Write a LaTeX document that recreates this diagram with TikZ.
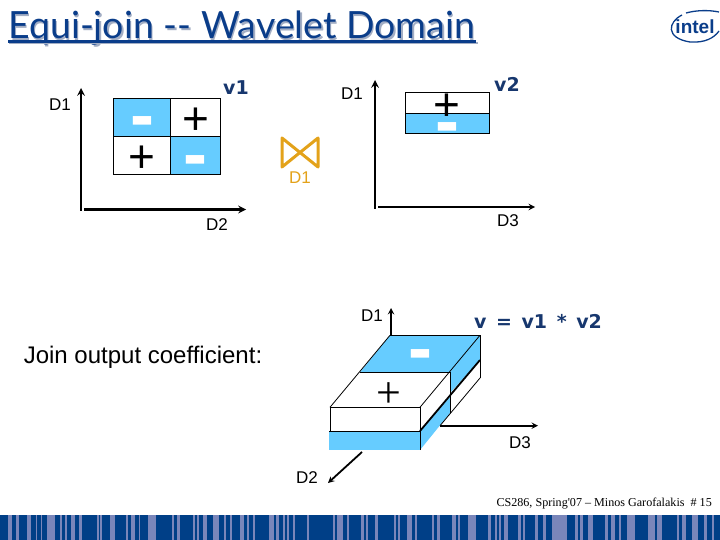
\documentclass[tikz,border=0pt]{standalone}
\usepackage{fontspec}
\setmainfont{Liberation Sans}
\newfontfamily\titlefont{Lato}
\newfontfamily\boldfont{DejaVu Sans}[BoldFont={DejaVu Sans Bold}]
\newfontfamily\plusfont{Liberation Serif}
\definecolor{barblue}{HTML}{003F87}
\definecolor{barlight}{HTML}{7A86BA}
\definecolor{cellblue}{HTML}{66CCFF}
\definecolor{titleblue}{HTML}{0A3D8A}
\definecolor{titlegray}{HTML}{A3AEC4}
\definecolor{vblue}{HTML}{17376E}
\definecolor{joinorange}{HTML}{E3A21A}
\begin{document}
\begin{tikzpicture}[
    x=1pt, y=-1pt,
    axis/.style={->, >=stealth, line width=2.4pt, black},
    axisthin/.style={->, >=stealth, line width=1.8pt, black},
    plain/.style={draw=black, fill=white, line width=0.8pt, minimum height=38pt, outer sep=0pt, inner sep=0pt},
    neg/.style={plain, fill=cellblue},
    plus/.style={font=\fontsize{46}{46}\selectfont, text=black, inner sep=0pt},
    minus/.style={font=\fontsize{72}{72}\bfseries\selectfont, text=white, inner sep=0pt},
    dim/.style={font=\fontsize{17}{17}\selectfont, text=black, inner sep=0pt},
    vname/.style={font=\fontsize{19}{19}\boldfont\bfseries\selectfont, text=vblue, inner sep=0pt},
    edge/.style={line width=0.8pt, black},
    edgeheavy/.style={line width=1.8pt, black},
]
\useasboundingbox (0,0) rectangle (720,540);

% title with its shadow
\node[font=\fontsize{37.5}{37.5}\titlefont\selectfont, text=titlegray, inner sep=0pt, anchor=base west] (titleshadow) at (9.5,40.5) {Equi-join -- Wavelet Domain};
\node[font=\fontsize{37.5}{37.5}\titlefont\selectfont, text=titleblue, inner sep=0pt, anchor=base west] (title) at (8,39) {Equi-join -- Wavelet Domain};
\fill[titlegray] (9,42) rectangle (478,44.5);
\fill[titleblue] (8,40.5) rectangle (476,43);

% logo
\node[font=\fontsize{19}{19}\bfseries\selectfont, text=titleblue, inner sep=0pt] (intel) at (695,27) {intel};
\draw[titleblue, line width=1.3pt] (682,15) .. controls (668,22) and (665,38) .. (690,42) .. controls (705,43) and (714,38) .. (719,31);
\draw[titleblue, line width=1.3pt] (686,13) .. controls (697,10) and (709,10) .. (719,12);

% v1
\node[neg, minimum width=57pt] (cella) at (142,117) {};
\node[plain, minimum width=50pt] (cellb) at (195.5,117) {};
\node[plain, minimum width=57pt] (cellc) at (142,155.5) {};
\node[neg, minimum width=50pt] (celld) at (195.5,155.5) {};
\node[minus] (ma) at (142,128) {-};
\node[plus] (pb) at (195.5,121) {+};
\node[plus] (pc) at (142,159) {+};
\node[minus] (md) at (195.5,167) {-};
\coordinate (originv) at (81,211);
\coordinate (topv) at (81,88);
\coordinate (cornerv) at (84,209.5);
\coordinate (rightv) at (246,209.5);
\draw[axis] (originv) -- (topv);
\draw[axis] (cornerv) -- (rightv);
\node[dim] (dvone) at (60,105) {D1};
\node[dim] (dvtwo) at (217,225) {D2};
\node[vname] (vone) at (236,88) {v1};

% join symbol
\coordinate (bowa) at (282,138);
\coordinate (bowb) at (318,167);
\coordinate (bowc) at (318,138);
\coordinate (bowd) at (282,167);
\draw[joinorange, line width=3pt, line join=round] (bowa) -- (bowb) -- (bowc) -- (bowd) -- cycle;
\node[dim, text=joinorange] (djoin) at (300,178) {D1};

% v2
\node[plain, minimum width=84pt, minimum height=21pt] (cellp) at (447,103) {};
\node[neg, minimum width=84pt, minimum height=20pt] (cellq) at (447,123.5) {};
\node[plus] (pp) at (447,107) {+};
\node[minus] (mq) at (447,134) {-};
\coordinate (originw) at (375,209);
\coordinate (topw) at (375,80);
\coordinate (cornerw) at (378,207);
\coordinate (rightw) at (535,207);
\draw[axis] (originw) -- (topw);
\draw[axisthin] (cornerw) -- (rightw);
\node[dim] (dwone) at (352,94) {D1};
\node[dim] (dwtwo) at (508,221) {D3};
\node[vname] (vtwo) at (507,84) {v2};

% output box
\coordinate (upa) at (391,335);
\coordinate (upb) at (391,308);
\coordinate (rga) at (440,425.7);
\coordinate (rgb) at (538,425.7);
\coordinate (dna) at (362,452);
\coordinate (dnb) at (328,483);
\draw[axisthin] (upa) -- (upb);
\draw[axisthin] (rga) -- (rgb);
\fill[cellblue] (390,335.3) -- (480,335.3) -- (450,372.3) -- (360,372.3) -- cycle;
\fill[cellblue] (450,372.3) -- (480,335.3) -- (480,360) -- (450,393) -- cycle;
\fill[cellblue] (420,431) -- (450,397) -- (450,413) -- (420,450) -- cycle;
\fill[cellblue] (329,431) rectangle (420,450);
\draw[edge] (390,335.3) -- (480,335.3);
\draw[edge] (360,372.3) -- (450,372.3);
\draw[edge] (390,335.3) -- (330,407.3);
\draw[edge] (480,335.3) -- (420,407.3);
\draw[edge] (330,407.3) -- (420,407.3);
\draw[edge] (330,407.3) -- (330,431);
\draw[edge] (420,407.3) -- (420,450);
\draw[edge] (450,372.3) -- (450,413);
\draw[edge] (480,335.3) -- (480,378);
\draw[edgeheavy] (480,360) -- (420,431);
\draw[edge] (480,378) -- (440,425.7);
\draw[edge] (329,431) -- (420,431);
\draw[axisthin] (dna) -- (dnb);
\node[plus, font=\fontsize{44}{44}\plusfont\selectfont] (pbox) at (389,395) {+};
\node[minus] (mbox) at (420,361) {-};
\node[dim] (dbone) at (372,316) {D1};
\node[dim] (dbtwo) at (520,443) {D3};
\node[dim] (dbthree) at (307,478) {D2};
\node[vname] (vboth) at (538,321) {\spaceskip=9.6pt v = v1 * v2};
\node[font=\fontsize{24}{24}\selectfont, inner sep=0pt] (joinlabel) at (143,357) {Join output coefficient:};

% footer
\node[font=\fontsize{12.1}{12.1}\plusfont\selectfont, inner sep=0pt, anchor=east] (footer) at (712,504) {CS286, Spring'07 – Minos Garofalakis\ \ \# 15};
\fill[barblue] (0,515) rectangle (720,540);
\foreach \x/\w in {7.5/4, 16/2.5, 27/4, 36/1, 41/1, 47/8, 60/1.5, 65/2, 71/4, 79/3, 97/1.5, 100/1.5, 110/5, 126/1.5, 131/3.5, 139/1, 148/8, 172/2, 177/3, 193/1.5, 197/2, 203/4, 213/6, 224/1.5, 230/1.5, 240/4, 247/1.5, 253/1.5, 269/5, 276/3, 283/1.5, 287/2, 293/2, 307/1.5, 333/2, 337/6, 347/2, 361/3, 366/2, 375/3, 394/2, 398/2, 407/5, 415/2, 432/2, 437/3, 452/4, 458/2, 468/8, 488/2.5, 495/2, 499/2, 504/3.5, 518/2.5, 523/2, 535/2.5, 543/3, 552/15, 575/2.5, 580/3, 588/5, 605/2.5, 611/3.5, 619/1.5, 627/8, 648/7, 657/5, 677/1.5, 682/4, 692/6, 704/3, 712/2}
  \fill[barlight] (\x,515) rectangle ++(\w,25);
\end{tikzpicture}
\end{document}
